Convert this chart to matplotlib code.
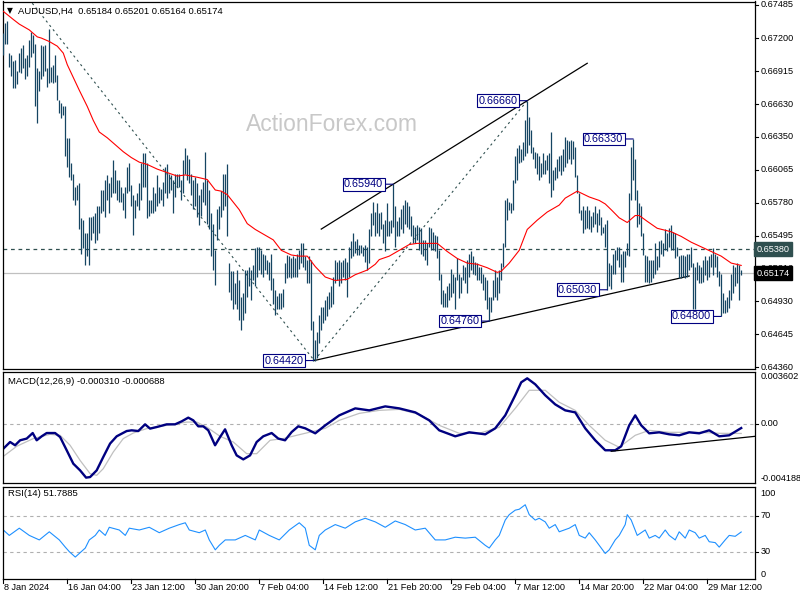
import numpy as np
import matplotlib
matplotlib.use("Agg")
import matplotlib.pyplot as plt
from matplotlib.transforms import blended_transform_factory as btf

plt.rcParams['font.family'] = ['Liberation Sans', 'DejaVu Sans']

# ---------------- data ----------------
symbol = "AUDUSD,H4"
last_ohlc = [0.65184, 0.65201, 0.65164, 0.65174]

# bar highs / lows in pips (price * 10000), one value per H4 bar
high_pips = [
    6724,6733,6735,6707,6705,6700,6701,6692,6707,6711, 6714,6703,6705,6718,6725,6723,6715,6694,6692,6714,
    6713,6714,6694,6728,6695,6697,6705,6688,6667,6664, 6661,6661,6634,6634,6612,6603,6592,6593,6595,6565,
    6563,6552,6552,6566,6566,6567,6569,6575,6575,6589, 6589,6598,6602,6595,6600,6615,6606,6598,6598,6592,
    6586,6592,6609,6612,6593,6585,6580,6586,6595,6612, 6621,6621,6612,6580,6580,6592,6586,6602,6592,6590,
    6596,6609,6611,6603,6602,6598,6603,6603,6603,6598, 6615,
    6625,6619,6616,6603,6598,6600,6595,6585,6590,6596, 6622,6598,6589,6569,6560,6537,6573,6575,6588,6603,
    6603,6611,6526,6519,6519,6509,6520,6511,6497,6500, 6520,6520,6523,6520,6524,6539,6540,6540,6537,6534,
    6533,6529,6527,6534,6513,6503,6498,6500,6500,6504, 6526,6533,6532,6530,6532,6530,6534,6537,6543,6543,
    6532,6529,6532,6529,6476,6460,6467,6481,6488,6488, 6494,6498,6501,6506,6514,6529,6527,6529,6527,6529,
    6530,6527,6540,6545,6552,6545,6547,6542,6542,6540, 6542,6540,6555,6569,6579,
    6570,6578,6569,6570,6560,6563,6578,6562,6563,6594, 6575,6562,6566,6573,6576,6580,6579,6575,6567,6559,
    6557,6559,6557,6556,6546,6546,6543,6557,6556,6553, 6550,6549,6537,6517,6503,6500,6506,6509,6521,6517,
    6514,6530,6517,6514,6524,6523,6529,6534,6536,6532, 6527,6526,6523,6523,6517,6514,6511,6497,6497,6511,
    6520,6514,6520,6526,6543,6580,6582,6579,6578,6598, 6618,6625,6628,6624,6630,6649,6666,6652,6641,6626,
    6622,6621,6618,6612,6621,6615,6619,6621,6639,6606, 6609,
    6616,6618,6619,6624,6635,6632,6631,6632,6631,6626, 6602,6586,6572,6575,6572,6575,6572,6567,6570,6575,
    6569,6573,6566,6557,6560,6563,6526,6524,6534,6537, 6540,6540,6534,6536,6536,6543,6586,6626,6633,6616,
    6589,6578,6575,6552,6533,6532,6529,6529,6529,6543, 6532,6545,6546,6543,6555,6552,6556,6559,6553,6552,
    6540,6532,6533,6533,6532,6534,6534,6540,6526,6523, 6527,6524,6523,6529,6532,6529,6532,6534,6539,6534,
    6532,6519,6517,6500,6494,6497,6503,6517,6524,6523, 6526,6524,6520,
]
low_pips = [
    6705,6715,6715,6695,6687,6677,6677,6680,6691,6690, 6694,6685,6687,6695,6704,6707,6661,6647,6674,6685,
    6687,6692,6678,6681,6682,6681,6682,6667,6655,6651, 6654,6618,6609,6600,6598,6580,6576,6580,6555,6534,
    6539,6524,6532,6524,6546,6552,6543,6546,6552,6569, 6571,6566,6580,6569,6583,6586,6586,6580,6579,6579,
    6572,6565,6586,6588,6575,6550,6565,6575,6572,6580, 6592,6592,6565,6567,6569,6569,6571,6575,6578,6580,
    6575,6586,6582,6586,6589,6569,6583,6592,6592,6580, 6586,
    6603,6598,6595,6585,6573,6575,6566,6559,6567,6579, 6576,6560,6555,6532,6520,6507,6546,6555,6566,6572,
    6575,6549,6501,6494,6486,6491,6486,6477,6468,6477, 6483,6497,6506,6494,6511,6506,6514,6520,6517,6514,
    6520,6517,6511,6503,6491,6481,6486,6486,6486,6488, 6509,6513,6514,6513,6514,6514,6514,6521,6526,6523,
    6520,6509,6509,6468,6442,6442,6444,6457,6468,6474, 6477,6480,6486,6488,6491,6509,6511,6506,6509,6514,
    6511,6497,6514,6530,6532,6535,6533,6533,6535,6532, 6527,6520,6526,6549,6559,
    6549,6552,6549,6555,6543,6536,6549,6549,6552,6557, 6540,6549,6549,6555,6552,6560,6557,6555,6549,6543,
    6543,6546,6537,6534,6532,6529,6524,6540,6537,6537, 6536,6530,6511,6491,6488,6488,6488,6494,6497,6500,
    6486,6511,6496,6500,6511,6509,6500,6514,6520,6517, 6516,6511,6511,6509,6503,6494,6486,6476,6484,6494,
    6497,6494,6500,6511,6523,6540,6563,6572,6569,6572, 6595,6598,6612,6613,6615,6618,6621,6628,6621,6616,
    6608,6603,6598,6600,6603,6603,6606,6595,6583,6589, 6598,
    6599,6605,6602,6605,6609,6612,6616,6611,6616,6600, 6586,6569,6563,6552,6555,6556,6555,6553,6557,6560,
    6553,6559,6550,6552,6540,6503,6506,6504,6517,6517, 6529,6523,6510,6510,6523,6533,6532,6580,6598,6580,
    6557,6560,6549,6533,6510,6510,6509,6510,6513,6517, 6520,6523,6534,6532,6537,6536,6540,6537,6537,6530,
    6532,6513,6513,6514,6513,6514,6520,6523,6486,6486, 6511,6509,6509,6510,6516,6511,6514,6523,6516,6523,
    6514,6506,6480,6483,6483,6484,6487,6494,6500,6506, 6509,6494,6516,
]

# red moving average, sampled (bar index, pips)
ma_idx = [0,5,8,13,17,19,23,27,30,32,35,38,42,45,48,52,56,60,64,68,72,77,82,87,91,97,102,106,109,112,
          118,122,126,131,135,139,144,148,152,156,161,166,172,176,182,186,188,193,198,203,207,212,217,
          222,227,232,237,242,247,249,253,258,262,267,272,278,281,287,293,298,301,304,308,312,316,318,
          322,327,334,339,344,349,354,359,364,369]
ma_pips = [6743,6736,6732,6727,6721,6720,6717,6713,6707,6697,6686,6675,6661,6649,6639,6634,6628,6622,
           6617,6613,6611,6607,6604,6601,6602,6600,6598,6589,6588,6585,6572,6560,6555,6550,6546,6537,
           6533,6532,6532,6523,6514,6511,6512,6516,6520,6525,6529,6532,6537,6542,6543,6543,6543,6536,
           6530,6526,6525,6522,6518,6519,6526,6537,6555,6563,6570,6576,6582,6588,6583,6580,6577,6572,
           6565,6561,6567,6567,6562,6556,6553,6549,6544,6540,6536,6532,6526,6524]

# MACD(12,26,9) main line and signal, in units of 1e-4
macd_idx = [0,3.4,5.9,8.4,11.7,14.7,16.7,19.2,21.7,25.9,28.4,31.7,35,38.4,41.4,43.4,46.7,50,53.4,56.7,
            61.7,64.2,67.5,70.9,73.4,76.7,81.7,85.9,89.2,92.5,95,97.5,100,102.5,105.9,108.4,110.9,114.2,
            116.7,120,123.4,126.7,130,134.2,137.5,140.9,144.2,147.5,151,156,161,168,176,183,191,198,206,
            213,218,226,233,241,246,251,256,259,262,266,271,276,281,286,291,296,301,306,309,313,316,319,
            323,328,333,338,343,348,353,358,363,369]
macd_main = [-17.6,-12.9,-15.2,-11.7,-10.5,-6.6,-11.7,-8.9,-6.6,-6.6,-9.4,-18.7,-28.1,-32.8,-37.9,-37.5,
             -32.8,-23.4,-14.0,-8.9,-5.2,-4.7,-5.2,-0.5,-3.5,-2.4,-0.5,-0.5,1.6,4.2,2.3,-1.9,-1.9,-4.7,
             -15.2,-9.4,-4.0,-15.2,-22.3,-25.1,-22.3,-12.9,-8.9,-6.6,-10.5,-11.7,-5.9,-1.9,-3.3,-6.8,-1.2,
             5.8,10.7,9.3,12.1,10.7,7.9,2.3,-4.7,-8.9,-6.1,-7.5,-3.3,5.8,19.9,29.0,31.8,27.6,19.9,13.5,
             9.3,7.9,-3.3,-11.7,-18.7,-18.7,-15.9,-1.2,5.8,-1.2,-6.8,-6.1,-7.5,-8.2,-6.1,-6.8,-4.7,-8.9,
             -8.2,-3.1]
sig_idx = [0,6.7,15,23.4,28.4,33.4,38.4,43.4,46.7,50,55,60,65,71.7,81.7,91.7,96.7,101.7,108.4,115,121.7,
           126.7,133.4,140,146.7,153,161,168,178,188,198,208,218,228,238,248,256,263,271,278,286,293,301,
           308,316,323,333,348,358,369]
macd_signal = [-23.0,-15.9,-10.5,-7.5,-8.2,-15.2,-25.8,-35.1,-36.3,-31.6,-19.9,-10.5,-6.6,-3.5,-1.2,1.1,
               1.1,-2.4,-8.9,-12.9,-21.1,-21.1,-11.7,-10.5,-8.2,-6.1,-3.3,2.3,7.2,9.3,10.0,6.5,-1.2,-6.8,
               -6.8,-2.6,10.7,23.4,23.4,15.0,9.3,-1.2,-11.7,-16.6,-8.2,-4.7,-6.1,-6.1,-6.8,-6.9]
macd_top, macd_bottom = 0.003602, -0.004188

# RSI(14), sampled (bar index, value)
rsi_idx = [0,3,8,13,18,23,28,31,33,36,38,41,43,46,48,51,53,58,61,63,68,73,78,83,88,91,93,98,101,103,
           106,108,111,116,121,126,128,133,138,143,148,151,153,156,158,161,166,171,176,181,186,191,196,
           201,206,211,216,221,226,231,236,241,243,246,248,251,253,256,258,261,263,266,268,271,273,276,
           278,283,286,288,291,293,296,298,301,303,306,308,311,312,314,317,321,323,326,328,331,333,336,
           338,341,343,346,348,351,353,356,358,361,363,366,369]
rsi_vals = [54,48,56,48,43,52,43,35,30,24,28,34,43,48,54,48,57,54,48,56,54,57,51,56,60,62,54,51,54,43,
            32,37,43,43,48,43,54,48,43,54,62,56,37,32,48,54,60,56,63,67,63,57,64,60,54,56,43,43,46,45,
            46,37,34,43,48,65,71,76,77,82,71,65,67,63,56,60,52,56,60,48,45,51,43,37,28,32,43,48,60,71,
            65,48,54,45,48,45,54,48,43,52,45,54,51,45,48,41,40,35,43,48,47,51.8]

price_ticks = [0.67485, 0.67200, 0.66915, 0.66630, 0.66350, 0.66065, 0.65780, 0.65495, 0.65210,
               0.64930, 0.64645, 0.64360]
time_labels = ["8 Jan 2024", "16 Jan 04:00", "23 Jan 12:00", "30 Jan 20:00", "7 Feb 04:00",
               "14 Feb 12:00", "21 Feb 20:00", "29 Feb 04:00", "7 Mar 12:00", "14 Mar 20:00",
               "22 Mar 04:00", "29 Mar 12:00"]
bars_per_label = 32

swing_points = [(155, 0.64420), (195, 0.65940), (262, 0.66660), (315, 0.66330),
                (302, 0.65030), (243, 0.64760), (359, 0.64800)]
resistance = 0.65380
macd_trend = [(304, -19.4), (376, -8.9)]

# ---------------- styling ----------------
BAR = '#154562'
NAVY = '#000080'
W, H = 800, 600
fig = plt.figure(figsize=(8, 6), dpi=100)

def axes_px(left, top, right, bottom):
    return fig.add_axes([left / W, 1 - bottom / H, (right - left) / W, (bottom - top) / H])

ax1 = axes_px(2.7, 1.5, 755, 369)
ax2 = axes_px(2.7, 372.3, 755, 483.3)
ax3 = axes_px(2.7, 486.7, 755, 578.7)

highs = np.array(high_pips) / 10000.0
lows = np.array(low_pips) / 10000.0
idx = np.arange(len(highs))
xlim = (-0.3, 375.9)

for ax in (ax1, ax2, ax3):
    ax.set_xlim(*xlim)
    ax.set_xticks([])
    ax.set_yticks([])
    for s in ax.spines.values():
        s.set_linewidth(0.9)
        s.set_color('black')

# ---- price panel ----
ax1.set_ylim(0.64347, 0.67515)
ax1.axhline(resistance, color='#2f4f4f', lw=0.9, ls=(0, (3, 3)), zorder=1)
ax1.axhline(last_ohlc[3], color='#c0c0c0', lw=0.9, zorder=1)
ax1.vlines(idx, lows, highs, color=BAR, lw=0.9, zorder=3)
ax1.plot(ma_idx, np.array(ma_pips) / 10000.0, color='red', lw=0.8, zorder=4)

# zigzag (dotted) and channel lines
lo_i, lo_p = swing_points[0]
hi1_i, hi1_p = swing_points[1]
hi2_i, hi2_p = swing_points[2]
lo2_i, lo2_p = swing_points[5]
zz_start = (14.5, 0.6750)
ax1.plot([zz_start[0], lo_i + 0.5, hi2_i], [zz_start[1], lo_p, hi2_p], color='#2f4f4f',
         lw=0.8, ls=(0, (2, 3)), zorder=2)
slope_u = (hi2_p - hi1_p) / (hi2_i - hi1_i)
xu = np.array([159, 292])
ax1.plot(xu, hi1_p + slope_u * (xu - hi1_i), color='black', lw=0.9, zorder=2)
slope_l = (lo2_p - lo_p) / (lo2_i - lo_i - 0.5)
xl = np.array([lo_i + 0.5, 343])
ax1.plot(xl, lo_p + slope_l * (xl - lo_i - 0.5), color='black', lw=0.9, zorder=2)

for i_, p_ in swing_points:
    ax1.annotate(f"{p_:.5f}", xy=(i_, p_), xytext=(-10, 0), textcoords='offset pixels',
                 ha='right', va='center', fontsize=7.8, color=NAVY, zorder=6,
                 bbox=dict(boxstyle='square,pad=0.12', fc='white', ec=NAVY, lw=0.8),
                 arrowprops=dict(arrowstyle='-', color=NAVY, lw=0.8, shrinkA=0, shrinkB=0))

ax1.text(0.323, 0.665, "ActionForex.com", transform=ax1.transAxes, fontsize=16.5,
         color='#c8c8c8', ha='left', va='center', zorder=0)
fig.text(7 / W, 1 - 11 / H, "\u25BC", fontsize=5.5, color='black', ha='left', va='center',
         family='DejaVu Sans')
fig.text(18.5 / W, 1 - 11 / H, "{}  {:.5f} {:.5f} {:.5f} {:.5f}".format(symbol, *last_ohlc),
         fontsize=6.8, color='black', ha='left', va='center')

tr1 = btf(ax1.transAxes, ax1.transData)
for t in price_ticks:
    ax1.plot([1.0, 1.004], [t, t], color='black', lw=0.8, transform=tr1, clip_on=False)
    ax1.text(1.0075, t, f"{t:.5f}", transform=tr1, fontsize=6.6, ha='left', va='center',
             clip_on=False)
ax1.text(1.002, resistance, f"{resistance:.5f}", transform=tr1, fontsize=6.6, ha='left',
         va='center', color='white', clip_on=False, zorder=7,
         bbox=dict(boxstyle='square,pad=0.25', fc='#2f4f4f', ec='#2f4f4f'))
ax1.text(1.002, last_ohlc[3], f"{last_ohlc[3]:.5f}", transform=tr1, fontsize=6.6, ha='left',
         va='center', color='white', clip_on=False, zorder=7,
         bbox=dict(boxstyle='square,pad=0.25', fc='black', ec='black'))

# ---- MACD panel ----
ax2.set_ylim(macd_bottom, macd_top)
ax2.axhline(0, color='#b0b0b0', lw=0.8, ls=(0, (3, 3)))
ax2.plot(sig_idx, np.array(macd_signal) * 1e-4, color='#c0c0c0', lw=0.9)
ax2.plot(macd_idx, np.array(macd_main) * 1e-4, color=NAVY, lw=1.7)
ax2.plot([p[0] for p in macd_trend], [p[1] * 1e-4 for p in macd_trend], color='black', lw=0.9)
ax2.text(0.0075, 0.92, "MACD(12,26,9) {:.6f} {:.6f}".format(macd_main[-1] * 1e-4,
         -0.000688), transform=ax2.transAxes, fontsize=6.8, ha='left', va='center')
tr2 = btf(ax2.transAxes, ax2.transData)
ax2.text(1.0075, macd_top, f"{macd_top:.6f}", transform=tr2, fontsize=6.6, ha='left', va='top')
ax2.text(1.0075, 0, "0.00", transform=tr2, fontsize=6.6, ha='left', va='center')
ax2.text(1.0075, macd_bottom, f"{macd_bottom:.6f}", transform=tr2, fontsize=6.6, ha='left',
         va='bottom')
ax2.plot([1.0, 1.004], [0, 0], color='black', lw=0.8, transform=tr2, clip_on=False)

# ---- RSI panel ----
ax3.set_ylim(0, 102)
for lvl in (70, 30):
    ax3.axhline(lvl, color='#b0b0b0', lw=0.8, ls=(0, (3, 3)))
ax3.plot(rsi_idx, rsi_vals, color='#1e90ff', lw=0.8)
ax3.text(0.0075, 0.925, "RSI(14) 51.7885", transform=ax3.transAxes, fontsize=6.8, ha='left',
         va='center')
tr3 = btf(ax3.transAxes, ax3.transData)
ax3.text(1.0075, 100, "100", transform=tr3, fontsize=6.6, ha='left', va='top')
ax3.text(1.0075, 0, "0", transform=tr3, fontsize=6.6, ha='left', va='bottom')
for lvl in (70, 30):
    ax3.text(1.0075, lvl, str(lvl), transform=tr3, fontsize=6.6, ha='left', va='center')
    ax3.plot([1.0, 1.004], [lvl, lvl], color='black', lw=0.8, transform=tr3, clip_on=False)

# time axis labels
trx = btf(ax3.transData, ax3.transAxes)
for k, lab in enumerate(time_labels):
    xi = k * bars_per_label
    ax3.plot([xi, xi], [0, -0.045], color='black', lw=0.8, transform=trx, clip_on=False)
    ax3.text(xi + 0.3, -0.1, lab, transform=trx, fontsize=6.6, ha='left', va='center',
             clip_on=False)

fig.savefig("out.png", dpi=100)
